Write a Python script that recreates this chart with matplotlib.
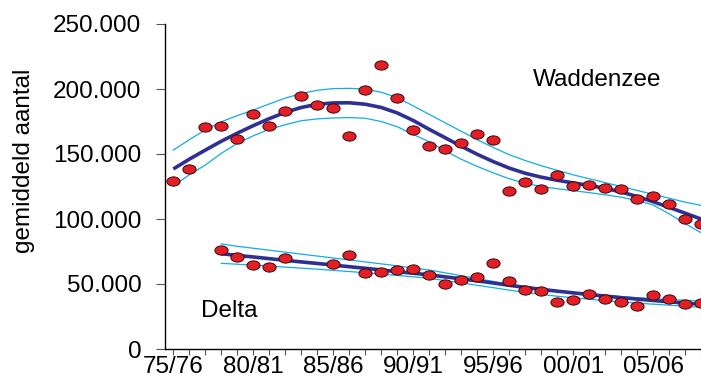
import matplotlib
matplotlib.use("Agg")
import matplotlib.pyplot as plt
import numpy as np
from matplotlib.path import Path
from matplotlib.ticker import FuncFormatter, MultipleLocator

# ---- data (season index 0 = 75/76) ----
tick_labels = ["75/76", "80/81", "85/86", "90/91", "95/96", "00/01", "05/06"]

wadden_idx = list(range(34))
wadden_vals = [129.2, 138.5, 170.8, 171.5, 161.3, 180.5, 171.5, 183.0, 195.0, 188.0,
               185.4, 163.8, 199.0, 218.2, 193.3, 168.2, 156.3, 153.6, 158.7, 165.1,
               160.5, 121.8, 128.7, 123.3, 133.8, 125.6, 126.4, 124.1, 123.3, 115.1,
               117.5, 111.8, 100.2, 96.4]
wadden_trend = [138.5, 146.0, 153.0, 159.8, 166.0, 171.8, 177.2, 182.0, 185.8, 188.2,
                189.3, 189.4, 188.3, 185.8, 181.6, 175.8, 169.0, 162.5, 156.0, 149.8,
                144.2, 139.2, 135.2, 132.2, 129.8, 127.8, 125.8, 123.6, 120.8, 117.3,
                113.3, 109.0, 104.5, 100.0]
wadden_upper = [153.0, 161.0, 168.5, 174.8, 179.5, 183.8, 188.5, 193.0, 196.5, 199.0,
                200.3, 200.5, 200.0, 197.5, 193.5, 187.0, 180.5, 174.0, 167.5, 161.0,
                155.0, 149.5, 145.0, 141.0, 137.5, 134.0, 131.0, 128.0, 125.0, 122.0,
                119.0, 116.0, 113.0, 110.5]
wadden_lower = [125.4, 134.0, 141.5, 150.5, 158.2, 164.0, 169.0, 172.5, 175.6, 177.0,
                177.7, 178.0, 177.5, 175.0, 171.0, 165.0, 159.5, 152.5, 146.0, 140.5,
                135.5, 131.0, 127.5, 125.0, 123.3, 121.8, 120.3, 118.6, 116.8, 114.2,
                110.8, 104.0, 96.5, 89.5]

delta_idx = [3, 4, 5, 6, 7] + list(range(10, 34))
delta_vals = [76.4, 70.8, 64.4, 63.1, 70.0,
              65.6, 72.5, 58.7, 59.0, 60.5, 61.3, 56.9, 49.8, 53.3, 55.2,
              66.4, 52.1, 45.4, 44.4, 36.4, 37.7, 42.3, 38.2, 36.4, 33.3,
              41.8, 38.2, 34.4, 35.2]
delta_line_idx = list(range(3, 34))
delta_trend = [73.3, 72.0, 70.8, 69.5, 68.2, 67.0, 65.8, 64.6, 63.3, 62.1,
               60.8, 59.5, 58.3, 57.0, 55.5, 54.0, 52.4, 50.8, 49.0, 47.4,
               45.9, 44.5, 43.2, 41.9, 40.7, 39.5, 38.4, 37.3, 36.3, 35.3, 34.4]
delta_upper = [80.8, 79.0, 77.5, 76.0, 74.5, 73.0, 71.5, 70.0, 68.5, 67.0,
               65.5, 64.0, 62.3, 60.8, 58.6, 56.4, 54.2, 52.0, 49.8, 48.0,
               46.3, 45.0, 43.6, 42.4, 41.3, 40.3, 39.5, 38.8, 38.1, 37.5, 36.9]
delta_lower = [65.9, 65.2, 64.5, 63.8, 63.0, 62.2, 61.4, 60.5, 59.6, 58.6,
               57.6, 56.6, 55.5, 54.4, 52.6, 50.8, 49.0, 47.2, 45.3, 43.6,
               42.0, 40.6, 39.4, 38.3, 37.2, 36.2, 35.3, 34.5, 33.7, 32.9, 32.1]

K = 1000.0
NAVY = "#2E3192"
LIGHT = "#12ACE6"
RED = "#E41E26"

plt.rcParams['font.family'] = ['Liberation Sans', 'DejaVu Sans']

fig = plt.figure(figsize=(7.01, 3.81), dpi=100)
ax = fig.add_axes([165 / 701, 1 - 349 / 381, 1 - 165 / 701, (349 - 24) / 381])

# elliptical marker
circ = Path.unit_circle()
ell = Path(circ.vertices * np.array([1.0, 0.7]), circ.codes)

def s(v):
    return [x * K for x in v]

ax.plot(wadden_idx, s(wadden_upper), color=LIGHT, lw=0.9, zorder=2)
ax.plot(wadden_idx, s(wadden_lower), color=LIGHT, lw=0.9, zorder=2)
ax.plot(wadden_idx, s(wadden_trend), color=NAVY, lw=2.6, zorder=3,
        solid_capstyle='butt', solid_joinstyle='round')
ax.plot(delta_line_idx, s(delta_upper), color=LIGHT, lw=0.9, zorder=2)
ax.plot(delta_line_idx, s(delta_lower), color=LIGHT, lw=0.9, zorder=2)
ax.plot(delta_line_idx, s(delta_trend), color=NAVY, lw=2.6, zorder=3,
        solid_capstyle='butt', solid_joinstyle='round')

ax.plot(wadden_idx, s(wadden_vals), ls='none', marker=ell, ms=9.5,
        mfc=RED, mec="#3a0a0a", mew=0.7, zorder=4)
ax.plot(delta_idx, s(delta_vals), ls='none', marker=ell, ms=9.5,
        mfc=RED, mec="#3a0a0a", mew=0.7, zorder=4)

ax.set_xlim(-0.52, 33.0)
ax.set_ylim(0, 250000)

ax.spines['top'].set_visible(False)
ax.spines['right'].set_visible(False)
for sp in ('left', 'bottom'):
    ax.spines[sp].set_color('black')
    ax.spines[sp].set_linewidth(1.0)

ax.xaxis.set_minor_locator(MultipleLocator(1))
ax.set_xticks(range(0, 31, 5))
ax.set_xticklabels(tick_labels)
ax.set_yticks(range(0, 250001, 50000))
ax.yaxis.set_major_formatter(FuncFormatter(
    lambda v, p: "0" if v == 0 else f"{int(v):,}".replace(",", ".")))

ax.tick_params(axis='x', which='both', direction='out', length=4.3, width=0.8,
               color='#555555', labelsize=17.5, pad=0.5)
ax.tick_params(axis='y', which='major', direction='out', length=6.5, width=0.8,
               color='#555555', labelsize=17.5, pad=10.5)

fig.text(24 / 701, 1 - 161 / 381, "gemiddeld aantal", rotation=90,
         ha='center', va='center', fontsize=17.5)

ax.text(26.5, 207000, "Waddenzee", ha='center', va='center', fontsize=17.5)
ax.text(3.5, 29200, "Delta", ha='center', va='center', fontsize=17.5)

fig.savefig("out.png", dpi=100)
